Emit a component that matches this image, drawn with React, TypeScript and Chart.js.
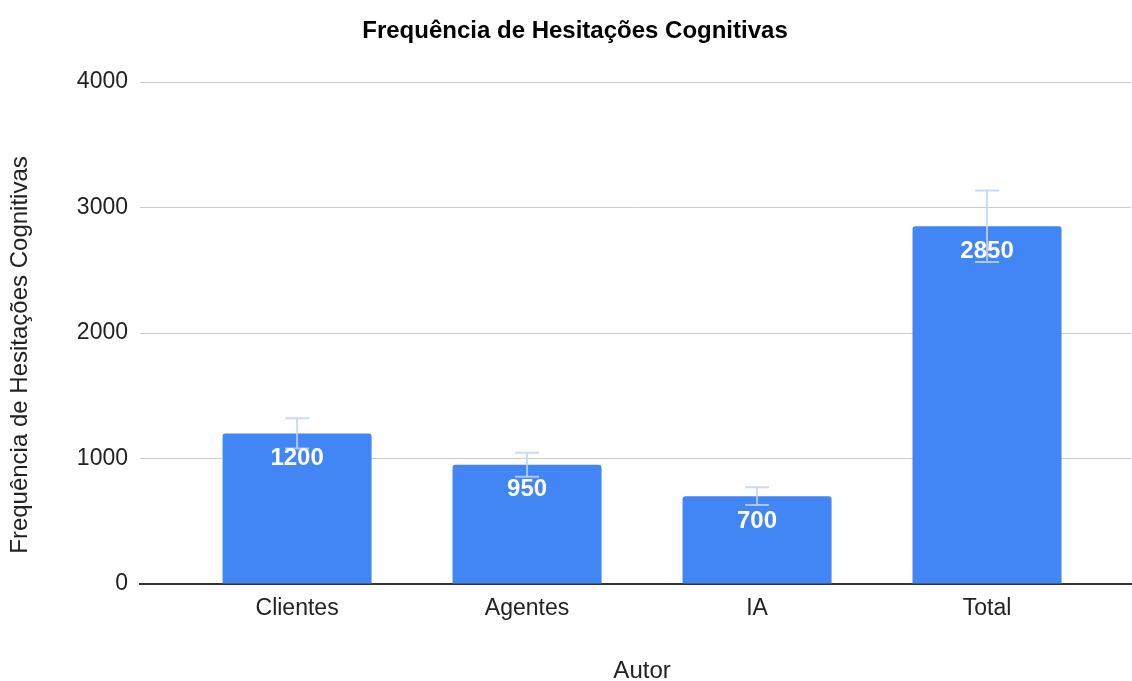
import React, { useEffect, useRef } from "react";
import { Chart, registerables } from "chart.js";

Chart.register(...registerables);

const chartTitle = "Frequência de Hesitações Cognitivas";
const xTitle = "Autor";
const yTitle = "Frequência de Hesitações Cognitivas";
const categories = ["Clientes", "Agentes", "IA", "Total"];
const values = [1200, 950, 700, 2850];
const errorAmounts = [120, 95, 70, 285];
const yMin = 0;
const yMax = 4000;
const yStep = 1000;

const FONT = "'Liberation Sans', Arial, sans-serif";

const extrasPlugin = {
  id: "extras",
  afterDatasetsDraw(chart: any) {
    const ctx = chart.ctx;
    const meta = chart.getDatasetMeta(0);
    const yScale = chart.scales.y;
    const xScale = chart.scales.x;
    ctx.save();
    // error bars
    ctx.strokeStyle = "rgba(190,212,252,0.85)";
    ctx.lineWidth = 2;
    meta.data.forEach((bar: any, i: number) => {
      const x = bar.x;
      const yTop = yScale.getPixelForValue(values[i] + errorAmounts[i]);
      const yBot = yScale.getPixelForValue(values[i] - errorAmounts[i]);
      ctx.beginPath();
      ctx.moveTo(x, yTop);
      ctx.lineTo(x, yBot);
      ctx.moveTo(x - 12, yTop);
      ctx.lineTo(x + 12, yTop);
      ctx.moveTo(x - 12, yBot);
      ctx.lineTo(x + 12, yBot);
      ctx.stroke();
    });
    // value labels
    ctx.fillStyle = "#ffffff";
    ctx.font = `bold 24px ${FONT}`;
    ctx.textAlign = "center";
    ctx.textBaseline = "middle";
    meta.data.forEach((bar: any, i: number) => {
      ctx.fillText(String(values[i]), bar.x, bar.y + 25);
    });
    // titles
    ctx.fillStyle = "#000000";
    ctx.font = `bold 24px ${FONT}`;
    ctx.fillText(chartTitle, 575, 31);
    ctx.fillStyle = "#222222";
    ctx.font = `24px ${FONT}`;
    const xc = (xScale.getPixelForValue(0) + xScale.getPixelForValue(categories.length - 1)) / 2;
    ctx.fillText(xTitle, xc, 671);
    ctx.translate(20, 355);
    ctx.rotate(-Math.PI / 2);
    ctx.fillText(yTitle, 0, 0);
    ctx.restore();
  },
};

export default function App() {
  const canvasRef = useRef<HTMLCanvasElement | null>(null);

  useEffect(() => {
    document.body.style.margin = "0";
    const canvas = canvasRef.current;
    if (!canvas) return;
    const chart = new Chart(canvas, {
      type: "bar",
      data: {
        datasets: [
          {
            data: categories.map((c, i) => ({ x: i, y: values[i] })),
            backgroundColor: "#4285f4",
            borderRadius: { topLeft: 3, topRight: 3, bottomLeft: 0, bottomRight: 0 },
            borderSkipped: "bottom",
            barPercentage: 1,
            categoryPercentage: 0.648,
          },
        ],
      },
      options: {
        animation: false,
        responsive: false,
        maintainAspectRatio: false,
        layout: { padding: { top: 82, right: 1, bottom: 0, left: 0 } },
        plugins: {
          legend: { display: false },
          tooltip: { enabled: false },
          title: { display: false },
        },
        scales: {
          x: {
            type: "linear",
            offset: false,
            min: -0.683,
            max: 3.626,
            grid: { display: false, drawTicks: false },
            border: { display: true, color: "#333333", width: 2 },
            ticks: {
              stepSize: 1,
              includeBounds: false,
              autoSkip: false,
              maxRotation: 0,
              padding: 11,
              color: "#222222",
              font: { family: FONT, size: 23 },
              callback: (v: any) => (Number.isInteger(v) && categories[v] !== undefined ? categories[v] : ""),
            },
            afterFit: (scale: any) => {
              scale.height = 97;
            },
          },
          y: {
            min: yMin,
            max: yMax,
            grid: {
              color: (c: any) => (c.tick && c.tick.value === 0 ? "rgba(0,0,0,0)" : "#cccccc"),
              drawTicks: false,
              lineWidth: 1,
            },
            border: { display: false },
            ticks: {
              stepSize: yStep,
              padding: 12,
              color: "#222222",
              font: { family: FONT, size: 23 },
              callback: (v: any) => String(v),
            },
            afterFit: (scale: any) => {
              scale.width = 140;
            },
          },
        },
      },
      plugins: [extrasPlugin],
    });
    return () => chart.destroy();
  }, []);

  return (
    <div style={{ position: "absolute", left: 0, top: 0, width: 1132, height: 681 }}>
      <canvas ref={canvasRef} width={1132} height={681} style={{ width: 1132, height: 681 }} />
    </div>
  );
}
